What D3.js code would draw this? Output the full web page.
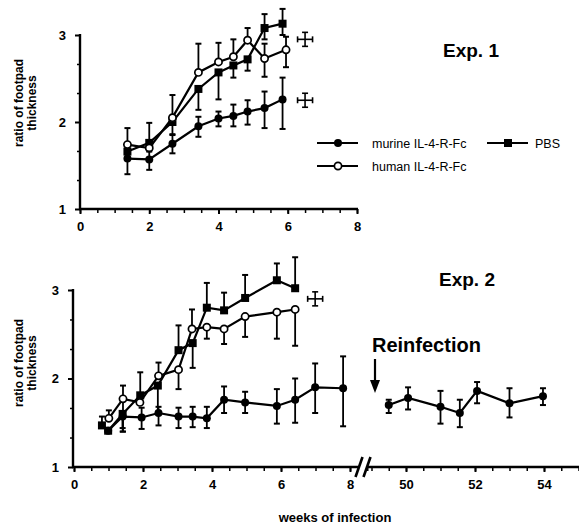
<!DOCTYPE html>
<html><head><meta charset="utf-8">
<script src="https://cdn.jsdelivr.net/npm/d3@7/dist/d3.min.js"></script>
<style>body{margin:0;background:#fff}svg{display:block}text{font-family:"Liberation Sans",Arial,sans-serif}</style>
</head><body><svg id="c" width="579" height="527"></svg>
<script>
// ---------- Exp. 1 data ----------
const weeks1 = [1.37, 2.0, 2.67, 3.42, 4.0, 4.43, 4.84, 5.33, 5.85];
const weeks1Human = [1.37, 2.0, 2.67, 3.42, 4.0, 4.43, 4.84, 5.33, 5.95];
const murine1 = [1.58, 1.57, 1.75, 1.95, 2.04, 2.07, 2.12, 2.16, 2.26];
const murine1Lo = [1.40, 1.45, 1.64, 1.83, 1.95, 1.95, 1.97, 1.93, 1.92];
const murine1Hi = [1.66, 1.66, 1.85, 2.06, 2.12, 2.20, 2.25, 2.35, 2.51];
const human1 = [1.74, 1.70, 2.05, 2.57, 2.69, 2.75, 2.94, 2.73, 2.83];
const human1Lo = [1.74, 1.70, 2.05, 2.57, 2.69, 2.75, 2.94, 2.52, 2.63];
const human1Hi = [1.93, 1.99, 2.31, 2.90, 2.91, 2.95, 3.08, 2.90, 2.98];
const pbs1 = [1.66, 1.76, 2.00, 2.38, 2.57, 2.65, 2.72, 3.08, 3.13];
const pbs1Lo = [1.66, 1.76, 1.86, 2.14, 2.26, 2.51, 2.59, 2.95, 3.00];
const pbs1Hi = [1.66, 1.76, 2.00, 2.38, 2.57, 2.65, 2.72, 3.24, 3.30];
const cross1 = [[6.5, 2.95], [6.5, 2.25]];

// ---------- Exp. 2 data ----------
const weeks2Murine = [0.99, 1.41, 1.96, 2.45, 3.03, 3.44, 3.85, 4.35, 4.96, 5.88, 6.41, 6.99, 7.8];
const murine2 = [1.41, 1.57, 1.56, 1.61, 1.57, 1.57, 1.55, 1.76, 1.73, 1.69, 1.76, 1.90, 1.89];
const murine2Lo = [1.41, 1.40, 1.43, 1.47, 1.44, 1.45, 1.44, 1.61, 1.61, 1.49, 1.50, 1.61, 1.46];
const murine2Hi = [1.41, 1.57, 1.67, 1.68, 1.67, 1.68, 1.68, 1.91, 1.85, 1.88, 2.00, 2.17, 2.25];
const weeks2Human = [1.01, 1.42, 1.91, 2.45, 3.03, 3.42, 3.85, 4.35, 4.96, 5.88, 6.41];
const human2 = [1.55, 1.77, 1.73, 2.03, 2.10, 2.56, 2.58, 2.56, 2.70, 2.75, 2.78];
const human2Lo = [1.55, 1.40, 1.73, 2.03, 1.88, 2.56, 2.45, 2.39, 2.47, 2.45, 2.37];
const human2Hi = [1.64, 1.92, 1.73, 2.18, 2.10, 2.78, 2.58, 2.56, 2.70, 2.75, 2.78];
const weeks2Pbs = [0.81, 0.99, 1.41, 1.92, 2.43, 3.03, 3.44, 3.85, 4.35, 4.96, 5.88, 6.41];
const pbs2 = [1.47, 1.41, 1.60, 1.81, 1.92, 2.32, 2.40, 2.80, 2.77, 2.91, 3.11, 3.02];
const pbs2Lo = [1.47, 1.41, 1.44, 1.81, 1.61, 2.32, 2.12, 2.80, 2.77, 2.91, 3.11, 3.02];
const pbs2Hi = [1.57, 1.41, 1.60, 2.07, 1.92, 2.60, 2.40, 3.08, 2.97, 3.17, 3.30, 3.37];
const weeksReinf = [49.5, 50.06, 51.0, 51.56, 52.06, 53.0, 53.97];
const murineReinf = [1.70, 1.78, 1.68, 1.61, 1.86, 1.72, 1.80];
const murineReinfLo = [1.61, 1.65, 1.49, 1.45, 1.72, 1.56, 1.70];
const murineReinfHi = [1.76, 1.90, 1.86, 1.76, 1.96, 1.89, 1.89];
const cross2 = [[6.99, 2.9]];

// ---------- tick labels ----------
const yTicks = [1, 2, 3];
const yMinor = [1.333, 1.667, 2.333, 2.667];
const xTicksTop = [0, 2, 4, 6, 8];
const xTicksBotA = [0, 2, 4, 6, 8];
const xTicksBotB = [50, 52, 54];
const seriesNames = ["murine IL-4-R-Fc", "human IL-4-R-Fc", "PBS"];

const svg = d3.select("#c");
const F = '"Liberation Sans",Arial,sans-serif';

// scales
const xTop = d3.scaleLinear().domain([0, 8]).range([80, 357]);
const yTop = d3.scaleLinear().domain([1, 3]).range([209, 35]);
const xBotA = d3.scaleLinear().domain([0, 8]).range([74, 350]);
const xBotB = d3.scaleLinear().domain([50, 54]).range([406, 544]);
const xBot = w => (w < 20 ? xBotA(w) : xBotB(w));
const yBot = d3.scaleLinear().domain([1, 3]).range([467, 290]);

function yAxis(y, x0) {
  const g = svg.append("g").attr("transform", `translate(${x0},0)`);
  g.call(d3.axisLeft(y).tickValues(yTicks).tickSize(5).tickFormat(d3.format("d")));
  g.select(".domain").remove();
  g.selectAll(".tick line").attr("stroke", "#000").attr("stroke-width", 2);
  g.selectAll(".tick text").attr("font-family", F).attr("font-weight", "bold").attr("font-size", 13).attr("x", -14).attr("fill", "#000");
  const gm = svg.append("g").attr("transform", `translate(${x0},0)`);
  gm.call(d3.axisLeft(y).tickValues(yMinor).tickSize(3).tickFormat(""));
  gm.select(".domain").remove();
  gm.selectAll(".tick line").attr("stroke", "#000").attr("stroke-width", 1.5);
  svg.append("line").attr("x1", x0).attr("x2", x0).attr("y1", y(3) - 1).attr("y2", y(1) + 1)
    .attr("stroke", "#000").attr("stroke-width", 2.4);
}
function xAxis(x, y0, majors, minors, a, b) {
  const gm = svg.append("g").attr("transform", `translate(0,${y0})`);
  gm.call(d3.axisBottom(x).tickValues(minors).tickSize(4).tickFormat(""));
  gm.select(".domain").remove();
  gm.selectAll(".tick line").attr("stroke", "#000").attr("stroke-width", 1.5);
  const g = svg.append("g").attr("transform", `translate(0,${y0})`);
  g.call(d3.axisBottom(x).tickValues(majors).tickSize(5).tickFormat(d3.format("d")));
  g.select(".domain").remove();
  g.selectAll(".tick line").attr("stroke", "#000").attr("stroke-width", 2);
  g.selectAll(".tick text").attr("font-family", F).attr("font-weight", "bold").attr("font-size", 13).attr("y", 13).attr("fill", "#000");
  svg.append("line").attr("x1", a).attr("x2", b).attr("y1", y0).attr("y2", y0)
    .attr("stroke", "#000").attr("stroke-width", 2.4);
}

// axes top
yAxis(yTop, 80);
xAxis(xTop, 209, xTicksTop, d3.range(0, 8.01, 0.5), 79, 358);
// axes bottom
yAxis(yBot, 73);
xAxis(xBotA, 467, xTicksBotA, d3.range(0, 8.51, 0.5), 72, 359);
xAxis(xBotB, 467, xTicksBotB, d3.range(49, 55.01, 0.5), 368, 579);
// break marks
[359, 367].forEach(cx => {
  svg.append("line").attr("x1", cx - 3.5).attr("y1", 477).attr("x2", cx + 3.5).attr("y2", 457)
    .attr("stroke", "#000").attr("stroke-width", 2.6);
});

// y labels
function yLabel(cy) {
  const t = svg.append("text").attr("transform", `translate(25,${cy}) rotate(-90)`)
    .attr("text-anchor", "middle").attr("font-family", F).attr("font-weight", "bold").attr("font-size", 12);
  t.append("tspan").attr("x", 0).attr("dy", -2).text("ratio of footpad");
  t.append("tspan").attr("x", 0).attr("dy", 13).text("thickness");
}
yLabel(103);
yLabel(363);

svg.append("text").attr("x", 335).attr("y", 522).attr("text-anchor", "middle")
  .attr("font-family", F).attr("font-weight", "bold").attr("font-size", 13).text("weeks of infection");

svg.append("text").attr("x", 443).attr("y", 57).attr("font-family", F).attr("font-weight", "bold")
  .attr("font-size", 19).text("Exp. 1");
svg.append("text").attr("x", 439).attr("y", 286).attr("font-family", F).attr("font-weight", "bold")
  .attr("font-size", 19).text("Exp. 2");
svg.append("text").attr("x", 372).attr("y", 352).attr("font-family", F).attr("font-weight", "bold")
  .attr("font-size", 20).text("Reinfection");
// arrow
svg.append("line").attr("x1", 375).attr("x2", 375).attr("y1", 359).attr("y2", 382)
  .attr("stroke", "#000").attr("stroke-width", 2.2);
svg.append("path").attr("d", "M370,380 L380,380 L375,393 Z").attr("fill", "#000");

// drawing helpers
function series(xs, vals, lo, hi, x, y, type) {
  const pts = xs.map((w, i) => ({ w, v: vals[i], lo: lo[i], hi: hi[i] }));
  const g = svg.append("g");
  pts.forEach(p => {
    const px = x(p.w);
    if (p.hi > p.v) {
      g.append("line").attr("x1", px).attr("x2", px).attr("y1", y(p.v)).attr("y2", y(p.hi)).attr("stroke", "#000").attr("stroke-width", 1.8);
      g.append("line").attr("x1", px - 3).attr("x2", px + 3).attr("y1", y(p.hi)).attr("y2", y(p.hi)).attr("stroke", "#000").attr("stroke-width", 2);
    }
    if (p.lo < p.v) {
      g.append("line").attr("x1", px).attr("x2", px).attr("y1", y(p.v)).attr("y2", y(p.lo)).attr("stroke", "#000").attr("stroke-width", 1.8);
      g.append("line").attr("x1", px - 3).attr("x2", px + 3).attr("y1", y(p.lo)).attr("y2", y(p.lo)).attr("stroke", "#000").attr("stroke-width", 2);
    }
  });
  g.append("path").datum(pts).attr("fill", "none").attr("stroke", "#000").attr("stroke-width", 2.2)
    .attr("d", d3.line().x(p => x(p.w)).y(p => y(p.v)));
  pts.forEach(p => marker(g, x(p.w), y(p.v), type));
}
function marker(g, cx, cy, type) {
  if (type === "filled") g.append("circle").attr("cx", cx).attr("cy", cy).attr("r", 4).attr("fill", "#000");
  else if (type === "open") g.append("circle").attr("cx", cx).attr("cy", cy).attr("r", 3.6).attr("fill", "#fff").attr("stroke", "#000").attr("stroke-width", 1.7);
  else g.append("rect").attr("x", cx - 4).attr("y", cy - 4).attr("width", 8).attr("height", 8).attr("fill", "#000");
}
function cross(w, v, x, y) {
  const cx = x(w), cy = y(v);
  const g = svg.append("g").attr("stroke", "#000").attr("stroke-width", 1.6);
  g.append("line").attr("x1", cx - 7.5).attr("x2", cx + 7.5).attr("y1", cy).attr("y2", cy);
  g.append("line").attr("x1", cx).attr("x2", cx).attr("y1", cy - 7).attr("y2", cy + 7);
  g.append("line").attr("x1", cx - 7.5).attr("x2", cx - 7.5).attr("y1", cy - 3).attr("y2", cy + 3);
  g.append("line").attr("x1", cx + 7.5).attr("x2", cx + 7.5).attr("y1", cy - 3).attr("y2", cy + 3);
  g.append("line").attr("x1", cx - 3).attr("x2", cx + 3).attr("y1", cy - 7).attr("y2", cy - 7);
  g.append("line").attr("x1", cx - 3).attr("x2", cx + 3).attr("y1", cy + 7).attr("y2", cy + 7);
}

// Exp. 1
series(weeks1, pbs1, pbs1Lo, pbs1Hi, xTop, yTop, "square");
series(weeks1Human, human1, human1Lo, human1Hi, xTop, yTop, "open");
series(weeks1, murine1, murine1Lo, murine1Hi, xTop, yTop, "filled");
cross1.forEach(c => cross(c[0], c[1], xTop, yTop));

// Exp. 2
series(weeks2Pbs, pbs2, pbs2Lo, pbs2Hi, xBot, yBot, "square");
series(weeks2Human, human2, human2Lo, human2Hi, xBot, yBot, "open");
series(weeks2Murine, murine2, murine2Lo, murine2Hi, xBot, yBot, "filled");
series(weeksReinf, murineReinf, murineReinfLo, murineReinfHi, xBot, yBot, "filled");
cross2.forEach(c => cross(c[0], c[1], xBot, yBot));

// legend
const legend = [
  { name: seriesNames[0], type: "filled", x: 317, y: 143 },
  { name: seriesNames[1], type: "open", x: 317, y: 166 },
  { name: seriesNames[2], type: "square", x: 487, y: 143 }
];
legend.forEach(l => {
  const g = svg.append("g");
  g.append("line").attr("x1", l.x).attr("x2", l.x + 41).attr("y1", l.y).attr("y2", l.y).attr("stroke", "#000").attr("stroke-width", 2);
  marker(g, l.x + 21, l.y, l.type);
  g.append("text").attr("x", l.x + (l.type === "square" ? 48 : 55)).attr("y", l.y + 4.5)
    .attr("font-family", F).attr("font-size", 12.5).text(l.name);
});
</script></body></html>
